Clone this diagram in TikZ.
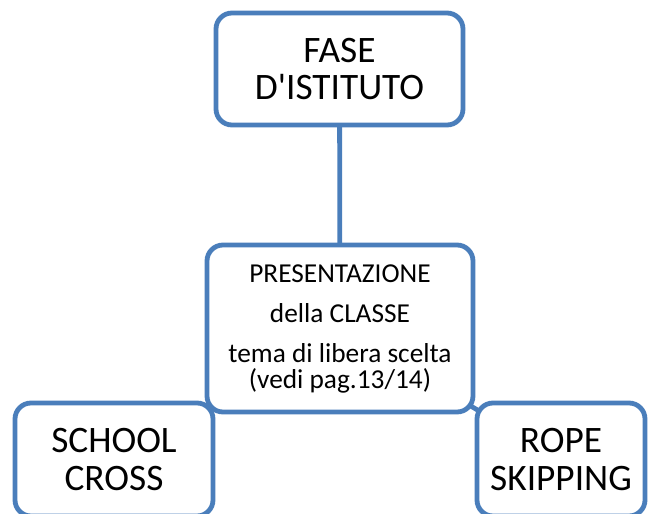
\documentclass[tikz,border=0pt]{standalone}
\usepackage{fontspec}
\setmainfont{Carlito}
\usetikzlibrary{backgrounds}
\definecolor{boxblue}{RGB}{74,126,187}
\begin{document}
\begin{tikzpicture}[x=0.75pt,y=-0.75pt,
  box/.style={draw=boxblue, line width=3.6pt, fill=white, rounded corners=12pt, inner sep=0pt, align=center},
  link/.style={draw=boxblue, line width=3.6pt},
  bigtext/.style={font=\fontsize{28}{28}\selectfont},
  smalltext/.style={font=\fontsize{20.5}{19.5}\selectfont}]
\useasboundingbox (0,0) rectangle (648,513);
\clip (0,0) rectangle (648,513);
\node[box, bigtext, minimum width=185.25pt, minimum height=84pt] (top) at (339.5,69) {FASE\\D\textquotesingle ISTITUTO};
\node[box, smalltext, minimum width=199.5pt, minimum height=125.25pt] (mid) at (340,328.5) {PRESENTAZIONE\\[10.5pt]della CLASSE\\[10.5pt]tema di libera scelta\\(vedi pag.13/14)};
\node[box, bigtext, minimum width=148.5pt, minimum height=84.75pt] (left) at (114,459.5) {SCHOOL\\CROSS};
\node[box, bigtext, minimum width=126pt, minimum height=84.75pt] (right) at (561,459.5) {ROPE\\SKIPPING};
\begin{pgfonlayer}{background}
\draw[link] (top.center) -- (mid.center);
\draw[link] (mid.center) -- (left.center);
\draw[link] (mid.center) -- (right.center);
\end{pgfonlayer}
\end{tikzpicture}
\end{document}
